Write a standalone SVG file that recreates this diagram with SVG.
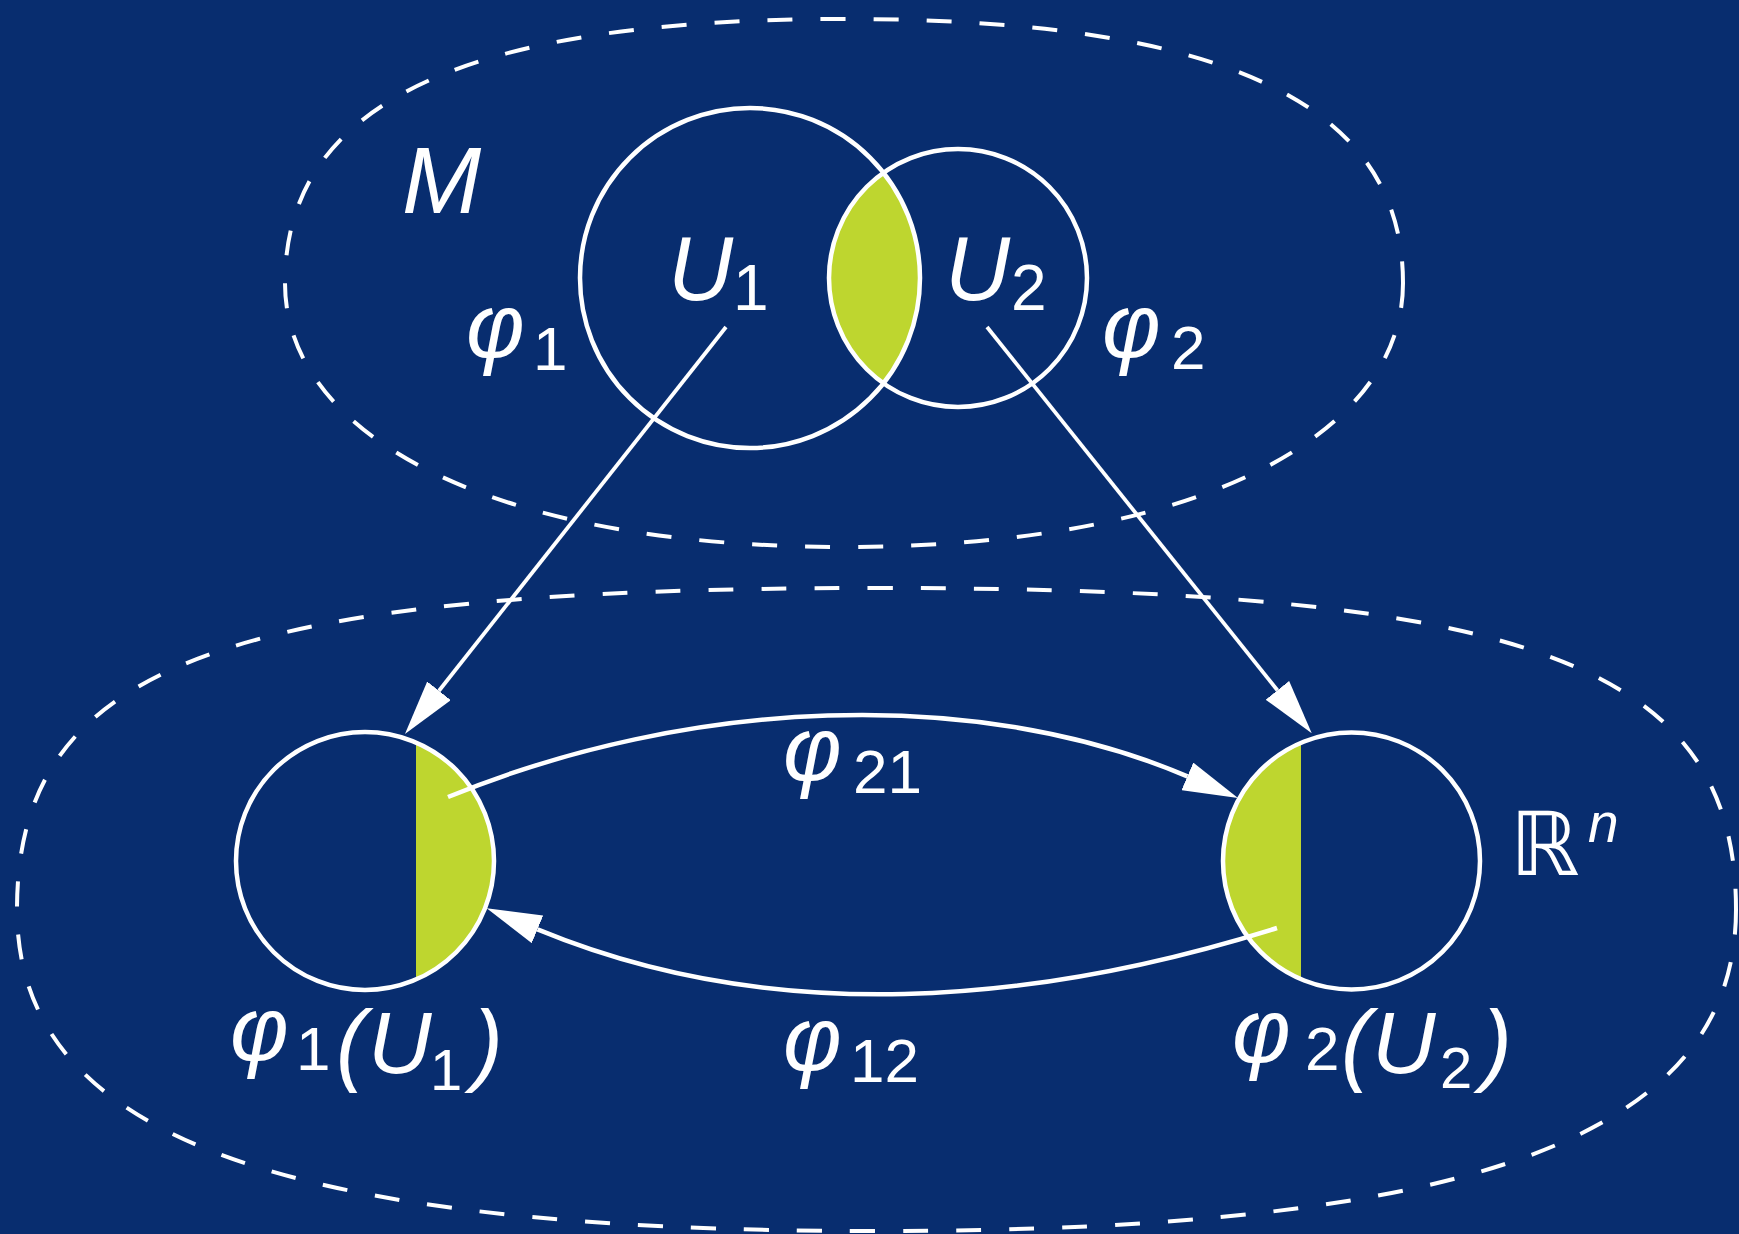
<svg xmlns="http://www.w3.org/2000/svg" width="1739" height="1234" viewBox="0 0 1739 1234">
  <style>
    .bg { fill: #082D6F; }
    .region { fill: none; stroke: #FFFFFF; stroke-width: 4; stroke-dasharray: 25 28; }
    .set { fill: none; stroke: #FFFFFF; stroke-width: 4.5; }
    .overlap { fill: #BED62F; stroke: none; }
    .map { fill: none; stroke: #FFFFFF; stroke-width: 3.8; }
    .curve { fill: none; stroke: #FFFFFF; stroke-width: 4.5; }
    text { fill: #FFFFFF; font-family: "Liberation Sans", Arial, "DejaVu Sans", sans-serif; }
    .it { font-style: italic; }
    .sub { font-style: normal; }
  </style>
  <defs>
    <marker id="arrow" viewBox="0 0 55 30" refX="0" refY="15" markerWidth="55" markerHeight="30" markerUnits="userSpaceOnUse" orient="auto">
      <path d="M0,0 L55,15 L0,30 Z" fill="#FFFFFF"/>
    </marker>
  </defs>
  <rect class="bg" x="0" y="0" width="1739" height="1234"/>

  <g id="manifold-M">
    <path class="region" d="M1403,283 C1403,436.1 1196.2,547 844,547 C491.8,547 285,436.1 285,283 C285,103.5 463.9,19 844,19 C1224.1,19 1403,103.5 1403,283 Z"/>
    <text class="it" x="402" y="213" font-size="95">M</text>
  </g>

  <g id="space-Rn">
    <path class="region" d="M1736,909.5 C1736,1134.55 1478.15,1231 876.5,1231 C274.85,1231 17,1134.55 17,909.5 C17,665.2 223.3,588 876.5,588 C1529.7,588 1736,665.2 1736,909.5 Z"/>
    <text x="1510" y="875" font-size="88" font-family="DejaVu Sans, sans-serif">ℝ<tspan class="it" x="1588" y="842" font-size="55">n</tspan></text>
  </g>

  <g id="overlap-U1U2">
    <path class="overlap" d="M883.5,172.8 A129,129 0 0 0 883.5,383.2 A170,170 0 0 0 883.5,172.8 Z"/>
  </g>

  <g id="U1">
    <circle class="set" cx="750" cy="278" r="170"/>
    <text class="it" x="668" y="300" font-size="90">U<tspan class="sub" x="733" y="310" font-size="64">1</tspan></text>
  </g>

  <g id="U2">
    <circle class="set" cx="958" cy="278" r="129"/>
    <text class="it" x="945" y="300" font-size="90">U<tspan class="sub" x="1011" y="310" font-size="64">2</tspan></text>
  </g>

  <g id="phi1-U1">
    <path class="overlap" d="M416,742.5 A129,129 0 0 1 416,979.5 Z"/>
    <circle class="set" cx="365" cy="861" r="129"/>
    <text class="it" x="230" y="1060" font-size="90">φ<tspan class="sub" x="296" y="1070" font-size="62">1</tspan><tspan x="336" y="1074" font-size="90">(</tspan><tspan x="368" y="1073" font-size="88">U</tspan><tspan class="sub" x="430" y="1090" font-size="58">1</tspan><tspan x="473" y="1074" font-size="90">)</tspan></text>
  </g>

  <g id="phi2-U2">
    <path class="overlap" d="M1301,742.3 A128.5,128.5 0 0 0 1301,979.7 Z"/>
    <circle class="set" cx="1351.5" cy="861" r="128.5"/>
    <text class="it" x="1232" y="1062" font-size="90">φ<tspan class="sub" x="1305" y="1070" font-size="62">2</tspan><tspan x="1341" y="1074" font-size="90">(</tspan><tspan x="1372" y="1073" font-size="88">U</tspan><tspan class="sub" x="1440" y="1088" font-size="58">2</tspan><tspan x="1482" y="1074" font-size="90">)</tspan></text>
  </g>

  <g id="connectors">
    <line class="map" x1="726" y1="327" x2="439" y2="690.8" marker-end="url(#arrow)"/>
    <line class="map" x1="987" y1="327" x2="1277.4" y2="690.3" marker-end="url(#arrow)"/>
    <path class="curve" d="M448,797 C688.5,698.5 974,685.2 1187.4,776.4" marker-end="url(#arrow)"/>
    <path class="curve" d="M1277,928 C1033.3,1004.7 773.5,1026.9 537.5,929.3" marker-end="url(#arrow)"/>
  </g>

  <g id="labels">
    <text class="it" x="466" y="357" font-size="90">φ<tspan class="sub" x="533" y="370" font-size="62">1</tspan></text>
    <text class="it" x="1102" y="357" font-size="90">φ<tspan class="sub" x="1171" y="369" font-size="62">2</tspan></text>
    <text class="it" x="783" y="780" font-size="90">φ<tspan class="sub" x="853" y="793" font-size="62">21</tspan></text>
    <text class="it" x="783" y="1070" font-size="90">φ<tspan class="sub" x="850" y="1082" font-size="62">12</tspan></text>
  </g>
</svg>
